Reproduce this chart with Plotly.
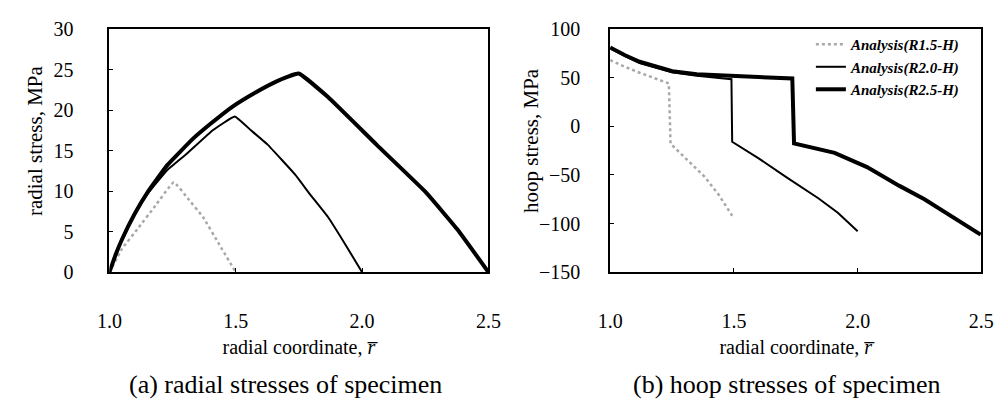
import plotly.graph_objects as go

# ---------------- data ----------------
# (a) radial stresses
rad_r15_x = [1.0, 1.05, 1.113, 1.177, 1.255, 1.31, 1.37, 1.435, 1.5]
rad_r15_y = [0.0, 2.9, 5.4, 8.0, 11.1, 9.1, 6.8, 3.4, 0.0]

rad_r20_x = [1.0, 1.025, 1.049, 1.1, 1.152, 1.229, 1.306, 1.409, 1.496, 1.56, 1.627, 1.736, 1.794, 1.865, 1.93, 2.0]
rad_r20_y = [0.0, 2.2, 4.0, 7.1, 9.7, 12.6, 14.6, 17.5, 19.2, 17.5, 15.7, 12.0, 9.6, 6.8, 3.6, 0.0]

rad_r25_x = [1.0, 1.025, 1.049, 1.1, 1.152, 1.229, 1.332, 1.4, 1.486, 1.58, 1.666, 1.749,
             1.865, 2.058, 2.251, 2.379, 2.5]
rad_r25_y = [0.0, 2.2, 4.0, 7.2, 9.9, 13.2, 16.5, 18.3, 20.4, 22.2, 23.6, 24.5,
             21.6, 15.7, 9.9, 5.2, 0.0]

# (b) hoop stresses
hoop_r15_x = [1.0, 1.06, 1.119, 1.18, 1.237, 1.244, 1.31, 1.382, 1.44, 1.493]
hoop_r15_y = [68, 61, 55, 49, 44, -18, -34, -52, -71, -92]

hoop_r20_x = [1.0, 1.06, 1.119, 1.25, 1.35, 1.42, 1.49, 1.493, 1.6, 1.71, 1.841, 1.92, 2.0]
hoop_r20_y = [80, 72, 65, 55.5, 52, 50, 48.4, -16, -33, -52, -74, -89, -108]

hoop_r25_x = [1.0, 1.06, 1.119, 1.251, 1.35, 1.487, 1.6, 1.736, 1.743, 1.82, 1.907, 2.038, 2.169,
              2.27, 2.366, 2.497]
hoop_r25_y = [81, 73, 66.3, 56.6, 53.5, 51.7, 50.5, 49.1, -17.7, -22, -27.4, -42, -61.3,
              -75, -90.4, -111.4]

series_names = ["Analysis(R1.5-H)", "Analysis(R2.0-H)", "Analysis(R2.5-H)"]
x_ticks = [1.0, 1.5, 2.0, 2.5]

FONT = "Liberation Serif"
styles = [
    dict(color="#a8a8a8", width=2.5, dash="dot"),
    dict(color="black", width=2),
    dict(color="black", width=4),
]

fig = go.Figure()
rad = [(rad_r15_x, rad_r15_y), (rad_r20_x, rad_r20_y), (rad_r25_x, rad_r25_y)]
hoop = [(hoop_r15_x, hoop_r15_y), (hoop_r20_x, hoop_r20_y), (hoop_r25_x, hoop_r25_y)]
for (x, y), st, nm in zip(rad, styles, series_names):
    fig.add_trace(go.Scatter(x=x, y=y, mode="lines", line=dict(st, shape="spline", smoothing=0.3),
                             name=nm, showlegend=False, xaxis="x", yaxis="y"))
for (x, y), st, nm in zip(hoop, styles, series_names):
    fig.add_trace(go.Scatter(x=x, y=y, mode="lines", line=st, name=nm,
                             showlegend=True, xaxis="x2", yaxis="y2"))

ydom = [1 - 276 / 409, 1 - 19 / 409]
axis_common = dict(showline=True, linecolor="black", linewidth=2, mirror=True,
                   ticks="inside", ticklen=4, tickwidth=1, tickcolor="black",
                   showgrid=False, zeroline=False,
                   tickfont=dict(family=FONT, size=20, color="black"))
xcommon = dict(axis_common, range=[1.0, 2.5], tickvals=x_ticks, tickformat=".1f",
               ticklabelstandoff=30,
               title=dict(text="radial coordinate, <i>r\u0305</i>",
                          font=dict(family=FONT, size=20, color="black"), standoff=9))

title_font = dict(family=FONT, size=21, color="black")
fig.update_layout(
    width=1008, height=409,
    margin=dict(l=0, r=0, t=0, b=0),
    paper_bgcolor="white", plot_bgcolor="white",
    font=dict(family=FONT, color="black"),
    xaxis=dict(xcommon, domain=[99 / 1008, 488 / 1008], anchor="y"),
    yaxis=dict(axis_common, ticklabelstandoff=30, domain=ydom, range=[0, 30], dtick=5, anchor="x"),
    xaxis2=dict(xcommon, domain=[613 / 1008, 994 / 1008], anchor="y2"),
    yaxis2=dict(axis_common, ticklabelstandoff=24, domain=ydom, range=[-150, 100], dtick=50,
                anchor="x2"),
    legend=dict(x=819 / 1008, y=1 - 18 / 409, xanchor="left", yanchor="top",
                bgcolor="rgba(0,0,0,0)", borderwidth=0,
                font=dict(family=FONT, size=15, style="italic", weight="bold", color="black"),
                tracegroupgap=0),
    annotations=[
        dict(text="radial stress, MPa", x=22 / 1008, y=1 - 137 / 409, textangle=-90,
             xref="paper", yref="paper", xanchor="center", yanchor="middle",
             showarrow=False, font=title_font),
        dict(text="hoop stress, MPa", x=531 / 1008, y=1 - 137 / 409, textangle=-90,
             xref="paper", yref="paper", xanchor="center", yanchor="middle",
             showarrow=False, font=title_font),
        dict(text="(a) radial stresses of specimen", x=280 / 1008, y=1 - 395 / 409,
             xref="paper", yref="paper", xanchor="center", yanchor="middle", showarrow=False,
             font=dict(family=FONT, size=26, color="black")),
        dict(text="(b) hoop stresses of specimen", x=794 / 1008, y=1 - 395 / 409,
             xref="paper", yref="paper", xanchor="center", yanchor="middle", showarrow=False,
             font=dict(family=FONT, size=26, color="black")),
    ],
)

fig.write_html("out.html")
